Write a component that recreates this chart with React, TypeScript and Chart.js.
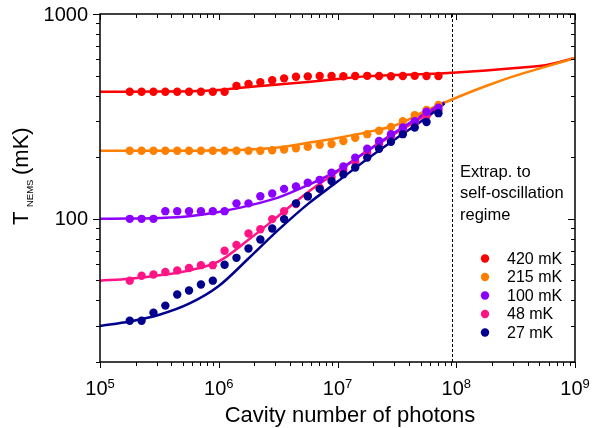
import { useEffect, useRef } from 'react';
import { Chart, registerables } from 'chart.js';

Chart.register(...registerables);

const FONT = "'Liberation Sans', Arial, sans-serif";

// measured photon numbers (x) of the data points
const pointX = [
  1.78e5, 2.24e5, 2.82e5, 3.55e5, 4.47e5, 5.62e5, 7.08e5, 8.91e5, 1.12e6,
  1.41e6, 1.78e6, 2.24e6, 2.82e6, 3.55e6, 4.47e6, 5.62e6, 7.08e6, 8.91e6,
  1.12e7, 1.41e7, 1.78e7, 2.24e7, 2.82e7, 3.55e7, 4.47e7, 5.62e7, 7.08e7,
];

// T_NEMS (mK) data points
const t420 = [417, 417, 417, 417, 417, 417, 417, 417, 417, 446, 455, 464, 475, 485, 494, 496, 498, 498, 497, 498, 499, 498, 497, 498, 499, 498, 498];
const t215 = [215, 215, 215, 215, 215, 215, 215, 215, 215, 215, 215, 215, 216, 218, 221, 225, 230, 232, 240, 249, 259, 269, 281, 300, 321, 340, 360];
const t100 = [100, 100, 100, 109, 109, 109, 109, 109, 109, 119, 119, 129, 133, 140, 144, 150, 155, 168, 180, 199, 220, 240, 259, 279, 300, 333, 349];
const t48 = [49.9, 52.7, 53.5, 55, 56, 57.5, 59.4, 59.4, 69.8, 74.6, 84.8, 89, 99.7, 109, 118, 129, 142, 160, 173, 190, 210, 232, 251, 272, 294, 318, 340];
const t27 = [31.8, 31.8, 34.8, 37.7, 42.7, 44.7, 47.8, 49.9, 59.7, 64.5, 71.6, 79.3, 89.7, 99.7, 119, 129, 140, 153, 165, 178, 199, 220, 238, 259, 279, 297, 328];

// model curves
const curveX = [1e5, 1.78e5, 3.16e5, 5.62e5, 1e6, 1.78e6, 3.16e6, 5.62e6, 1e7, 1.78e7, 3.16e7, 5.62e7, 1e8, 1.78e8, 3.16e8, 5.62e8, 1e9];
const fit420 = [417, 417, 418, 420, 426, 440, 453, 466, 482, 496, 504, 509, 518, 530, 545, 562, 610];
const fit215 = [215, 215, 215, 215, 216, 218, 223, 235, 248, 265, 288, 338, 390, 445, 500, 552, 610];
const curveXLow = [1e5, 1.78e5, 3.16e5, 5.62e5, 1e6, 1.78e6, 3.16e6, 5.62e6, 1e7, 1.78e7, 3.16e7, 5.62e7, 7.94e7];
const fit100 = [100, 100.3, 101, 103, 108, 116, 127, 146, 172, 215, 268, 330, 370];
const fit48 = [49.9, 51, 53, 56, 62, 79, 103, 135, 170, 214, 264, 322, 368];
const fit27 = [30, 31.5, 34, 38.5, 47, 64, 88, 118, 152, 196, 248, 312, 366];

const labels = ['420 mK', '215 mK', '100 mK', '48 mK', '27 mK'];
const colors = ['#ff0000', '#ff8000', '#8c00ff', '#ff1485', '#00008c'];

const xTicks = [1e5, 1e6, 1e7, 1e8, 1e9];
const yTicks = [100, 1000];
const extrapLimit = 9.2e7;
const extrapText = ['Extrap. to', 'self-oscillation', 'regime'];

const toPts = (xs: number[], ys: number[]) => xs.map((x, i) => ({ x, y: ys[i] }));

const framePlugin = {
  id: 'framePlugin',
  beforeDatasetsDraw(chart: any) {
    const { ctx, chartArea: a, scales } = chart;
    const px = Math.round(scales.x.getPixelForValue(extrapLimit)) + 0.5;
    ctx.save();
    ctx.strokeStyle = '#000';
    ctx.lineWidth = 1;
    ctx.setLineDash([3, 2]);
    ctx.beginPath();
    ctx.moveTo(px, a.top);
    ctx.lineTo(px, a.bottom);
    ctx.stroke();
    ctx.restore();
  },
  afterDatasetsDraw(chart: any) {
    const { ctx, chartArea: a, scales } = chart;
    const xs = scales.x;
    const ys = scales.y;
    ctx.save();
    ctx.strokeStyle = '#000';
    ctx.lineWidth = 1.5;
    ctx.strokeRect(a.left, a.top, a.right - a.left, a.bottom - a.top);
    ctx.lineWidth = 1;
    ctx.beginPath();
    for (let d = 5; d <= 9; d++) {
      for (let m = 1; m <= 9; m++) {
        if (d === 9 && m > 1) break;
        const v = m * Math.pow(10, d);
        const p = Math.round(xs.getPixelForValue(v)) + 0.5;
        const major = m === 1;
        ctx.moveTo(p, a.bottom);
        ctx.lineTo(p, a.bottom + (major ? 6 : 4));
        ctx.moveTo(p, a.top);
        ctx.lineTo(p, a.top + (major ? 6 : 4));
      }
    }
    for (let d = 1; d <= 3; d++) {
      for (let m = 1; m <= 9; m++) {
        const v = m * Math.pow(10, d);
        if (v < 20 || v > 1000) continue;
        const p = Math.round(ys.getPixelForValue(v)) + 0.5;
        const major = m === 1;
        ctx.moveTo(a.left, p);
        ctx.lineTo(a.left - (major ? 7 : 4), p);
        ctx.moveTo(a.right, p);
        ctx.lineTo(a.right - (major ? 7 : 4), p);
      }
    }
    ctx.stroke();

    ctx.fillStyle = '#000';

    // y tick labels
    ctx.font = `20px ${FONT}`;
    ctx.textAlign = 'right';
    ctx.textBaseline = 'middle';
    for (const v of yTicks) {
      ctx.fillText(String(v), a.left - 12, ys.getPixelForValue(v) + 1);
    }

    // x tick labels with superscript exponents
    ctx.textBaseline = 'alphabetic';
    ctx.textAlign = 'left';
    for (const v of xTicks) {
      const p = xs.getPixelForValue(v);
      const e = String(Math.round(Math.log10(v)));
      ctx.font = `20px ${FONT}`;
      const wb = ctx.measureText('10').width;
      ctx.font = `13px ${FONT}`;
      const we = ctx.measureText(e).width;
      const x0 = p - (wb + we) / 2;
      ctx.font = `20px ${FONT}`;
      ctx.fillText('10', x0, 395);
      ctx.font = `13px ${FONT}`;
      ctx.fillText(e, x0 + wb, 388);
    }

    // x title
    ctx.font = `22px ${FONT}`;
    ctx.textAlign = 'center';
    ctx.fillText('Cavity number of photons', 350, 422);

    // y title
    ctx.save();
    ctx.translate(28, 225);
    ctx.rotate(-Math.PI / 2);
    ctx.textAlign = 'left';
    ctx.font = `22px ${FONT}`;
    ctx.fillText('T', 0, 0);
    ctx.font = `9.5px ${FONT}`;
    ctx.fillText('NEMS', 18, 5);
    ctx.font = `22px ${FONT}`;
    ctx.fillText('(mK)', 50, 0);
    ctx.restore();

    // annotation
    ctx.font = `16.5px ${FONT}`;
    ctx.textAlign = 'left';
    extrapText.forEach((t, i) => ctx.fillText(t, 460, 176.5 + i * 21.5));

    // legend
    ctx.font = `16px ${FONT}`;
    ctx.textBaseline = 'middle';
    labels.forEach((t, i) => {
      const yy = 258.5 + i * 18.5;
      ctx.fillStyle = colors[i];
      ctx.beginPath();
      ctx.arc(485, yy, 4.2, 0, Math.PI * 2);
      ctx.fill();
      ctx.fillStyle = '#000';
      ctx.fillText(t, 507, yy + 1);
    });
    ctx.restore();
  },
};

export default function App() {
  const ref = useRef<HTMLCanvasElement>(null);
  useEffect(() => {
    document.body.style.margin = '0';
    const canvas = ref.current!;
    const pointSets = [t420, t215, t100, t48, t27];
    const fitSets = [
      { xs: curveX, ys: fit420 },
      { xs: curveX, ys: fit215 },
      { xs: curveXLow, ys: fit100 },
      { xs: curveXLow, ys: fit48 },
      { xs: curveXLow, ys: fit27 },
    ];
    const dotOrder = [4, 2, 3, 1, 0];
    const datasets: any[] = [];
    dotOrder.forEach((i) => {
      datasets.push({
        label: labels[i],
        data: toPts(pointX, pointSets[i]),
        backgroundColor: colors[i],
        borderWidth: 0,
        pointRadius: 4.2,
        showLine: false,
      });
    });
    dotOrder.forEach((i) => {
      datasets.push({
        label: labels[i] + ' fit',
        data: toPts(fitSets[i].xs, fitSets[i].ys),
        borderColor: colors[i],
        borderWidth: 2.5,
        pointRadius: 0,
        showLine: true,
        cubicInterpolationMode: 'monotone',
      });
    });
    const chart = new Chart(canvas, {
      type: 'scatter',
      data: { datasets },
      options: {
        animation: false,
        responsive: false,
        events: [],
        layout: { padding: { top: 14, right: 30, left: 0, bottom: 0 } },
        plugins: { legend: { display: false }, tooltip: { enabled: false } },
        scales: {
          x: {
            type: 'logarithmic',
            min: 1e5,
            max: 1e9,
            grid: { display: false },
            border: { display: false },
            ticks: { display: false },
            afterBuildTicks: (s: any) => {
              s.ticks = xTicks.map((v) => ({ value: v }));
            },
            afterFit: (s: any) => {
              s.height = 66;
            },
          },
          y: {
            type: 'logarithmic',
            min: 20,
            max: 1000,
            grid: { display: false },
            border: { display: false },
            ticks: { display: false },
            afterBuildTicks: (s: any) => {
              s.ticks = yTicks.map((v) => ({ value: v }));
            },
            afterFit: (s: any) => {
              s.width = 100;
            },
          },
        },
      } as any,
      plugins: [framePlugin],
    });
    return () => chart.destroy();
  }, []);
  return (
    <div style={{ position: 'absolute', left: 0, top: 0, width: 605, height: 428 }}>
      <canvas ref={ref} width={605} height={428} style={{ display: 'block', width: 605, height: 428 }} />
    </div>
  );
}
